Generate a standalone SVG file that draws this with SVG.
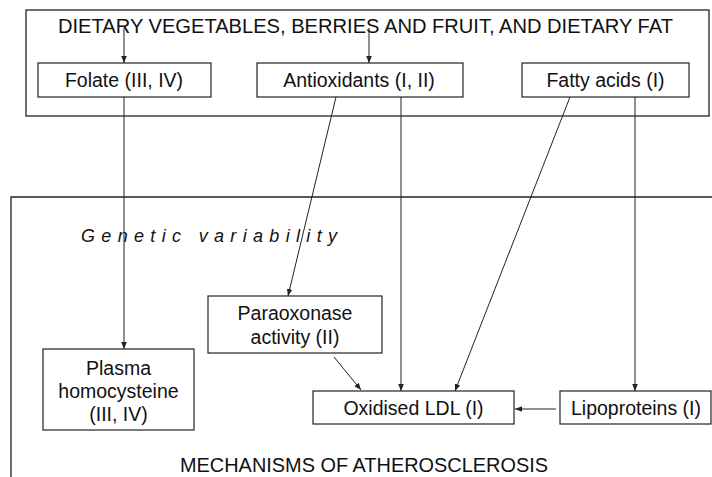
<svg xmlns="http://www.w3.org/2000/svg" width="712" height="477" viewBox="0 0 712 477">
<style>
.box{fill:#fff;stroke:#222;stroke-width:1.2}
.frame{fill:none;stroke:#222;stroke-width:1.3}
.t{font-family:"Liberation Sans",Arial,sans-serif;font-size:19.5px;fill:#111;text-anchor:middle}
.c{fill:none;stroke:#222;stroke-width:1}
</style>
<defs>
<marker id="ah" viewBox="0 0 10 10" refX="10" refY="5" markerWidth="7" markerHeight="7" markerUnits="userSpaceOnUse" orient="auto">
<path d="M0,1 L10,5 L0,9 Z" fill="#222"/>
</marker>
</defs>
<g id="diet-frame">
<rect class="frame" x="26" y="10" width="683" height="106"/>
<text class="t" x="365.5" y="33" textLength="615" lengthAdjust="spacingAndGlyphs">DIETARY VEGETABLES, BERRIES AND FRUIT, AND DIETARY FAT</text>
</g>
<g id="mechanisms-frame">
<path class="frame" d="M11,477 V197 H712"/>
<text class="t" x="81" y="242" style="text-anchor:start;font-style:italic;font-size:18px" textLength="256" lengthAdjust="spacing">Genetic variability</text>
<text class="t" x="364" y="472" textLength="368" lengthAdjust="spacingAndGlyphs">MECHANISMS OF ATHEROSCLEROSIS</text>
</g>
<g id="connectors">
<line class="c" x1="124" y1="28" x2="124" y2="63" marker-end="url(#ah)"/>
<line class="c" x1="369" y1="28" x2="369" y2="63" marker-end="url(#ah)"/>
<line class="c" x1="124" y1="97" x2="124" y2="349" marker-end="url(#ah)"/>
<line class="c" x1="336" y1="97" x2="288" y2="296" marker-end="url(#ah)"/>
<line class="c" x1="401" y1="97" x2="401" y2="391" marker-end="url(#ah)"/>
<line class="c" x1="570" y1="97" x2="455" y2="391" marker-end="url(#ah)"/>
<line class="c" x1="635" y1="97" x2="635" y2="391" marker-end="url(#ah)"/>
<line class="c" x1="334" y1="357" x2="361" y2="390" marker-end="url(#ah)"/>
<line class="c" x1="556" y1="409" x2="515" y2="409" marker-end="url(#ah)"/>
</g>
<g id="folate">
<rect class="box" x="38" y="63" width="173" height="34"/>
<text class="t" x="124" y="87">Folate (III, IV)</text>
</g>
<g id="antioxidants">
<rect class="box" x="257" y="63" width="206" height="34"/>
<text class="t" x="359" y="87">Antioxidants (I, II)</text>
</g>
<g id="fatty-acids">
<rect class="box" x="522" y="63" width="167" height="34"/>
<text class="t" x="605.5" y="87">Fatty acids (I)</text>
</g>
<g id="paraoxonase">
<rect class="box" x="208" y="296" width="174" height="57"/>
<text class="t" x="295" y="320">Paraoxonase</text>
<text class="t" x="295" y="344">activity (II)</text>
</g>
<g id="plasma-homocysteine">
<rect class="box" x="43" y="349" width="151" height="81"/>
<text class="t" x="118.5" y="375">Plasma</text>
<text class="t" x="118.5" y="398">homocysteine</text>
<text class="t" x="118.5" y="421">(III, IV)</text>
</g>
<g id="oxidised-ldl">
<rect class="box" x="313" y="391" width="201" height="33"/>
<text class="t" x="413.5" y="415">Oxidised LDL (I)</text>
</g>
<g id="lipoproteins">
<rect class="box" x="560" y="391" width="151" height="33"/>
<text class="t" x="636" y="415">Lipoproteins (I)</text>
</g>
</svg>
